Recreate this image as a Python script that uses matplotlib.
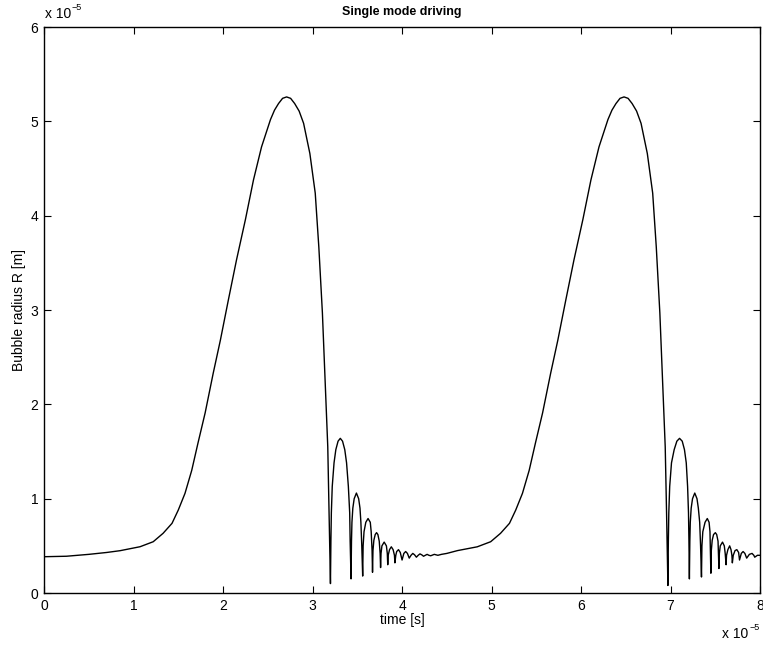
import matplotlib
matplotlib.use('Agg')
import matplotlib.pyplot as plt
from matplotlib.ticker import FuncFormatter

# values, in units of 1e-5 (s and m)
# first growth and collapse
t_first = [0.0, 0.25, 0.5, 0.70, 0.85, 1.073, 1.22, 1.33, 1.43, 1.50, 1.575, 1.65,
           1.72, 1.80, 1.89, 1.97, 2.06, 2.15, 2.25, 2.34, 2.43, 2.53, 2.575, 2.62,
           2.665, 2.71, 2.755, 2.80, 2.85, 2.90, 2.97, 3.03, 3.07, 3.11, 3.14, 3.17,
           3.185, 3.20]
r_first = [0.385, 0.39, 0.41, 0.43, 0.449, 0.491, 0.544, 0.633, 0.739, 0.88, 1.057, 1.30,
           1.59, 1.91, 2.33, 2.68, 3.11, 3.53, 3.96, 4.38, 4.73, 5.02, 5.12, 5.19,
           5.245, 5.26, 5.245, 5.19, 5.11, 4.98, 4.66, 4.24, 3.67, 2.97, 2.26, 1.55,
           0.85, 0.10]

# afterbounces of the first collapse
t_after1 = [3.205, 3.21, 3.22, 3.24, 3.26, 3.285, 3.31, 3.335, 3.36, 3.38, 3.40, 3.415, 3.42, 3.43,
            3.435, 3.44, 3.45, 3.465, 3.49, 3.515, 3.53, 3.54, 3.55, 3.56,
            3.565, 3.575, 3.595, 3.62, 3.645, 3.655, 3.665, 3.67,
            3.675, 3.685, 3.70, 3.715, 3.73, 3.745, 3.755, 3.76,
            3.765, 3.775, 3.80, 3.825, 3.835, 3.84,
            3.845, 3.86, 3.88, 3.90, 3.915, 3.92,
            3.93, 3.94, 3.96, 3.98, 4.00, 4.02, 4.04, 4.06, 4.08, 4.10, 4.12, 4.14,
            4.16, 4.18, 4.20, 4.22, 4.24, 4.26, 4.28, 4.30, 4.32, 4.36, 4.40, 4.44]
r_after1 = [0.55, 0.85, 1.13, 1.38, 1.52, 1.61, 1.64, 1.61, 1.52, 1.38, 1.13, 0.85, 0.55, 0.15,
            0.55, 0.75, 0.90, 1.00, 1.06, 1.00, 0.90, 0.75, 0.50, 0.18,
            0.50, 0.65, 0.75, 0.79, 0.75, 0.65, 0.45, 0.22,
            0.45, 0.56, 0.62, 0.64, 0.62, 0.55, 0.42, 0.27,
            0.42, 0.50, 0.54, 0.50, 0.42, 0.30,
            0.40, 0.46, 0.49, 0.46, 0.40, 0.32,
            0.40, 0.44, 0.46, 0.43, 0.35, 0.42, 0.44, 0.42, 0.37, 0.40, 0.42, 0.405,
            0.38, 0.40, 0.415, 0.405, 0.39, 0.40, 0.41, 0.40, 0.395, 0.41, 0.40, 0.41]

# second growth and collapse
t_second = [4.50, 4.62, 4.84, 4.99, 5.10, 5.20, 5.27, 5.345, 5.42, 5.49, 5.57, 5.66,
            5.74, 5.83, 5.92, 6.02, 6.11, 6.20, 6.30, 6.345, 6.39, 6.435, 6.48, 6.525,
            6.57, 6.62, 6.67, 6.74, 6.80, 6.84, 6.88, 6.91, 6.94, 6.955, 6.97]
r_second = [0.42, 0.45, 0.49, 0.544, 0.633, 0.739, 0.88, 1.057, 1.30, 1.59, 1.91, 2.33,
            2.68, 3.11, 3.53, 3.96, 4.38, 4.73, 5.02, 5.12, 5.19, 5.245, 5.26, 5.245,
            5.19, 5.11, 4.98, 4.66, 4.24, 3.67, 2.97, 2.26, 1.55, 0.85, 0.08]

# afterbounces of the second collapse
t_after2 = [6.975, 6.98, 6.99, 7.01, 7.04, 7.07, 7.10, 7.13, 7.155, 7.175, 7.19, 7.20, 7.205, 7.21,
            7.215, 7.22, 7.23, 7.245, 7.27, 7.295, 7.31, 7.325, 7.335, 7.345,
            7.35, 7.36, 7.385, 7.41, 7.43, 7.44, 7.445, 7.45,
            7.455, 7.465, 7.48, 7.50, 7.515, 7.53, 7.535, 7.54,
            7.545, 7.555, 7.58, 7.60, 7.61, 7.62,
            7.625, 7.64, 7.66, 7.675, 7.685, 7.69,
            7.70, 7.72, 7.74, 7.76, 7.77, 7.79, 7.81, 7.83, 7.85, 7.88, 7.91, 7.93,
            7.94, 7.97, 8.00]
r_after2 = [0.55, 0.85, 1.13, 1.38, 1.52, 1.61, 1.64, 1.61, 1.52, 1.38, 1.13, 0.85, 0.55, 0.15,
            0.55, 0.75, 0.90, 1.00, 1.06, 1.00, 0.90, 0.75, 0.50, 0.17,
            0.50, 0.65, 0.75, 0.79, 0.75, 0.65, 0.45, 0.21,
            0.45, 0.56, 0.62, 0.64, 0.62, 0.55, 0.42, 0.26,
            0.42, 0.50, 0.54, 0.50, 0.42, 0.30,
            0.40, 0.46, 0.50, 0.46, 0.40, 0.32,
            0.40, 0.45, 0.46, 0.43, 0.35, 0.42, 0.44, 0.42, 0.37, 0.41, 0.42, 0.40,
            0.38, 0.40, 0.40]

t = t_first + t_after1 + t_second + t_after2
r = r_first + r_after1 + r_second + r_after2

plt.rcParams['font.family'] = ['Liberation Sans', 'DejaVu Sans']

W, H = 763, 646
fig = plt.figure(figsize=(W / 100, H / 100), dpi=100)
ax = fig.add_axes([0.0577, 0.082, 0.9385, 0.876])
ax.plot([v * 1e-5 for v in t], [v * 1e-5 for v in r], color='black', lw=1.0)

ax.set_xlim(0, 8e-5)
ax.set_ylim(0, 6e-5)
ax.set_xticks([i * 1e-5 for i in range(9)])
ax.set_yticks([i * 1e-5 for i in range(7)])
fmt = FuncFormatter(lambda v, p: '%d' % round(v / 1e-5))
ax.xaxis.set_major_formatter(fmt)
ax.yaxis.set_major_formatter(fmt)
ax.tick_params(direction='in', length=5, width=0.8, labelsize=10,
               top=True, right=True, pad=4)
for s in ax.spines.values():
    s.set_linewidth(1.0)

ax.set_xlabel('time [s]', fontsize=10, labelpad=0)
ax.set_ylabel('Bubble radius R [m]', fontsize=10, labelpad=3)
ax.set_title('Single mode driving', fontsize=9, fontweight='bold', pad=9)

# MATLAB style exponent labels (pixel positions from the reference)
fig.text(45 / W, 1 - 18 / H, 'x 10', fontsize=10, ha='left', va='baseline')
fig.text(72 / W, 1 - 10 / H, '\u22125', fontsize=6.5, ha='left', va='baseline')
fig.text(722 / W, 1 - 638 / H, 'x 10', fontsize=10, ha='left', va='baseline')
fig.text(749 / W, 1 - 630 / H, '\u22125', fontsize=6.5, ha='left', va='baseline')

fig.savefig('out.png', dpi=100)
